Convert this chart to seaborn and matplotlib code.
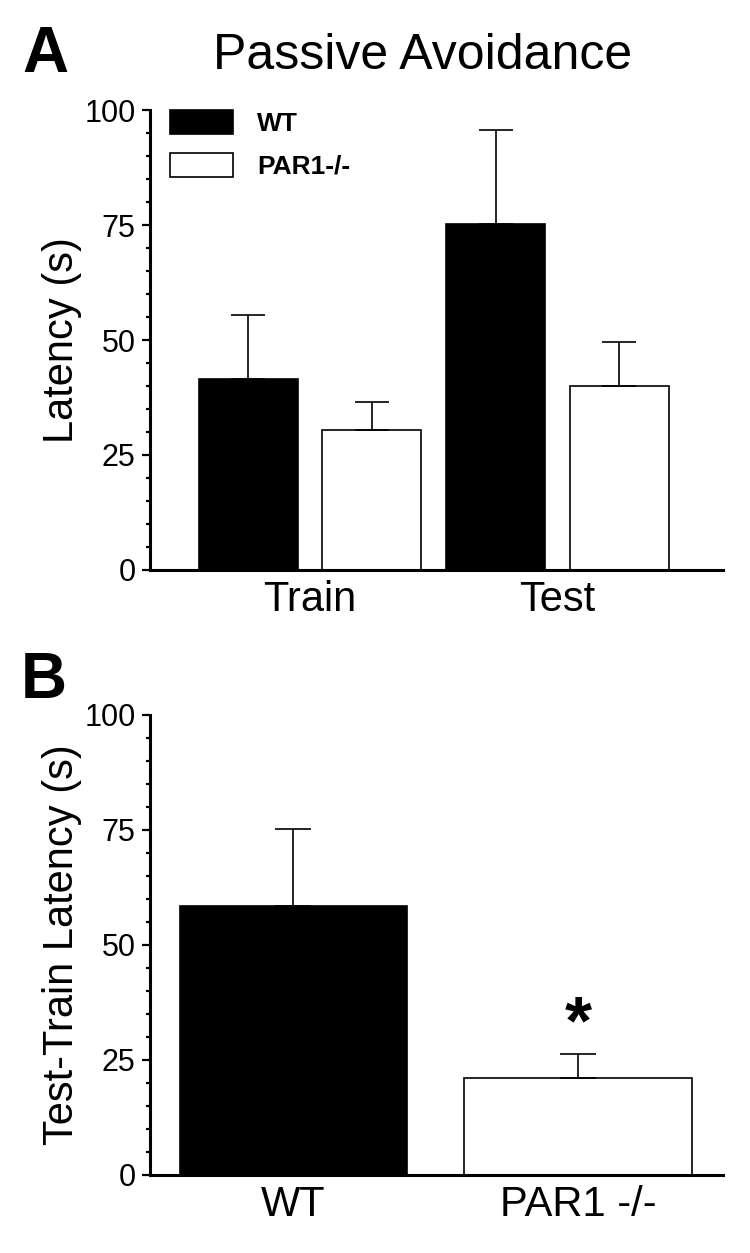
import matplotlib
matplotlib.use("Agg")
import matplotlib.pyplot as plt
import pandas as pd
import seaborn as sns
from matplotlib.ticker import MultipleLocator

# panel A: passive avoidance latency
phases = ["Train", "Test"]
genotypes = ["WT", "PAR1-/-"]
wt_latency = [41.5, 75.2]
wt_sem = [13.9, 20.4]
ko_latency = [30.4, 40.1]
ko_sem = [6.2, 9.4]

# panel B: test-train difference
groups_b = ["WT", "PAR1 -/-"]
diff_latency = [58.4, 21.0]
diff_sem = [16.7, 5.2]

yticks = [0, 25, 50, 75, 100]

sns.set_style("ticks")
plt.rcParams["font.family"] = ["Liberation Sans", "DejaVu Sans"]
for k in ("text.color", "axes.labelcolor", "xtick.color", "ytick.color", "axes.edgecolor"):
    plt.rcParams[k] = "black"

fig = plt.figure(figsize=(7.5, 12.53), dpi=100)
ax1 = fig.add_axes([0.2, 0.5451, 0.764, 0.3671])
ax2 = fig.add_axes([0.2, 0.0623, 0.764, 0.3671])

dfa = pd.DataFrame({
    "phase": phases * 2,
    "genotype": [genotypes[0]] * 2 + [genotypes[1]] * 2,
    "latency": wt_latency + ko_latency,
})
sems_a = {genotypes[0]: wt_sem, genotypes[1]: ko_sem}
pal = {genotypes[0]: "black", genotypes[1]: "white"}

sns.barplot(data=dfa, x="phase", y="latency", hue="genotype", order=phases,
            hue_order=genotypes, palette=pal, edgecolor="black", linewidth=1.2,
            width=1.0, gap=0.2, errorbar=None, ax=ax1)

for cont, g in zip(ax1.containers, genotypes):
    for bar, e in zip(cont, sems_a[g]):
        xc = bar.get_x() + bar.get_width() / 2
        h = bar.get_height()
        ax1.errorbar(xc, h, yerr=[[0], [e]], fmt="none", ecolor="black",
                     elinewidth=1.2, capsize=12, capthick=1.2, clip_on=False)

dfb = pd.DataFrame({"group": groups_b, "latency": diff_latency})
sns.barplot(data=dfb, x="group", y="latency", hue="group", order=groups_b,
            palette={groups_b[0]: "black", groups_b[1]: "white"},
            edgecolor="black", linewidth=1.2, width=0.8, errorbar=None,
            legend=False, ax=ax2)
for bar, e in zip(ax2.patches, diff_sem):
    xc = bar.get_x() + bar.get_width() / 2
    ax2.errorbar(xc, bar.get_height(), yerr=[[0], [e]], fmt="none", ecolor="black",
                 elinewidth=1.2, capsize=13, capthick=1.2, clip_on=False)
ax2.text(1, 28.5, "*", ha="center", va="baseline", fontsize=50, fontweight="bold")

for ax in (ax1, ax2):
    ax.set_ylim(0, 100)
    ax.set_yticks(yticks)
    ax.yaxis.set_minor_locator(MultipleLocator(5))
    sns.despine(ax=ax)
    for s in ("left", "bottom"):
        ax.spines[s].set_linewidth(2.2)
    ax.tick_params(axis="y", which="major", length=5.5, width=1.6, labelsize=22, pad=5)
    ax.tick_params(axis="y", which="minor", length=3, width=1.6)
    ax.tick_params(axis="x", length=0, labelsize=30, pad=7)
    ax.set_xlabel("")
    ax.yaxis.set_label_coords(-0.118, 0.5)

ax1.set_xlim(-0.646, 1.669)
ax2.set_xlim(-0.504, 1.51)
ax1.set_ylabel("Latency (s)", fontsize=30)
ax2.set_ylabel("Test-Train Latency (s)", fontsize=30)

handles, labels = ax1.get_legend_handles_labels()
ax1.legend(handles, labels, loc="upper left", bbox_to_anchor=(0.035, 1.0),
           frameon=False, borderpad=0, borderaxespad=0, handlelength=2.4,
           handleheight=1.0, labelspacing=0.65, handletextpad=0.9,
           prop={"weight": "bold", "size": 19})

fig.text(423 / 750, 1 - 69 / 1253, "Passive Avoidance", ha="center", va="baseline", fontsize=36)
fig.text(22 / 750, 1 - 72 / 1253, "A", ha="left", va="baseline", fontsize=46, fontweight="bold")
fig.text(21 / 750, 1 - 698 / 1253, "B", ha="left", va="baseline", fontsize=46, fontweight="bold")

fig.savefig("out.png", dpi=100)
